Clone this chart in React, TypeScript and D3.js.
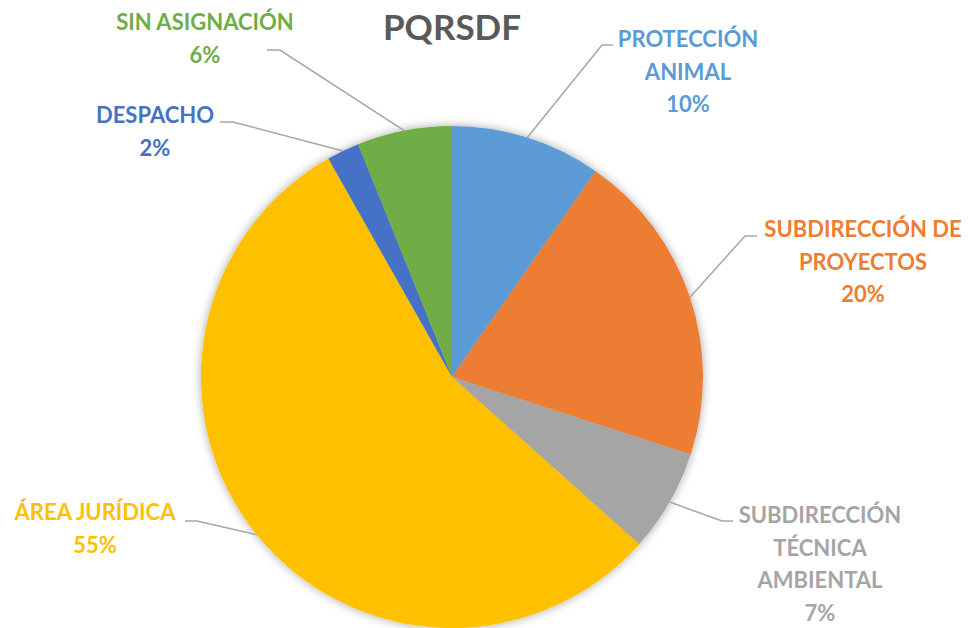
import { useEffect, useRef } from 'react';
import * as d3 from 'd3';

// datos del gráfico (porcentaje de PQRSDF por dependencia)
const categories = [
  ['PROTECCIÓN', 'ANIMAL'],
  ['SUBDIRECCIÓN DE', 'PROYECTOS'],
  ['SUBDIRECCIÓN', 'TÉCNICA', 'AMBIENTAL'],
  ['ÁREA JURÍDICA'],
  ['DESPACHO'],
  ['SIN ASIGNACIÓN'],
];
const values = [9.7, 20.3, 6.6, 55.2, 2.1, 6.1];
const colors = ['#5b9bd5', '#ed7d31', '#a5a5a5', '#ffc000', '#4472c4', '#70ad47'];

// posiciones de las etiquetas (centro x, línea base de la primera línea, codo de la guía)
const labelLayout = [
  { x: 688, y: 47, ex1: 613, ex2: 602, ey: 45 },
  { x: 863, y: 237, ex1: 757, ex2: 745, ey: 236 },
  { x: 820, y: 523, ex1: 733, ex2: 722, ey: 521 },
  { x: 95, y: 520, ex1: 185, ex2: 197, ey: 521 },
  { x: 155, y: 123, ex1: 220, ex2: 233, ey: 122 },
  { x: 205, y: 30, ex1: 267, ex2: 280, ey: 50 },
];

export default function App() {
  const svgRef = useRef<SVGSVGElement>(null);

  useEffect(() => {
    document.body.style.margin = '0';
    if (!svgRef.current) return;
    const svg = d3.select(svgRef.current);
    svg.selectAll('*').remove();

    const width = 971;
    const cx = 452;
    const cy = 377;
    const radius = 251;
    const font = 'Lato, "Open Sans", sans-serif';

    // sombra
    const defs = svg.append('defs');
    const filter = defs
      .append('filter')
      .attr('id', 'shadow')
      .attr('x', '-20%')
      .attr('y', '-20%')
      .attr('width', '140%')
      .attr('height', '140%');
    filter
      .append('feDropShadow')
      .attr('dx', 0)
      .attr('dy', 0)
      .attr('stdDeviation', 5)
      .attr('flood-color', '#000')
      .attr('flood-opacity', 0.35);

    const total = d3.sum(values);
    const pie = d3.pie<number>().sort(null).value((d) => d);
    const arcs = pie(values);
    const arc = d3.arc<d3.PieArcDatum<number>>().innerRadius(0).outerRadius(radius);

    const g = svg.append('g').attr('transform', `translate(${cx},${cy})`);
    g.append('g')
      .attr('filter', 'url(#shadow)')
      .selectAll('path')
      .data(arcs)
      .join('path')
      .attr('d', arc)
      .attr('fill', (d, i) => colors[i]);

    // guías
    arcs.forEach((d, i) => {
      const mid = (d.startAngle + d.endAngle) / 2;
      const px = cx + radius * Math.sin(mid);
      const py = cy - radius * Math.cos(mid);
      const l = labelLayout[i];
      svg
        .append('polyline')
        .attr('points', `${px},${py} ${l.ex2},${l.ey} ${l.ex1},${l.ey}`)
        .attr('fill', 'none')
        .attr('stroke', '#a6a6a6')
        .attr('stroke-width', 1.5);
    });

    // etiquetas
    arcs.forEach((d, i) => {
      const l = labelLayout[i];
      const lines = [...categories[i], `${Math.round((d.data / total) * 100)}%`];
      const text = svg
        .append('text')
        .attr('text-anchor', 'middle')
        .attr('font-family', font)
        .attr('font-weight', 'bold')
        .attr('font-size', 22)
        .attr('fill', colors[i]);
      lines.forEach((t, j) => {
        text
          .append('tspan')
          .attr('x', l.x)
          .attr('y', l.y + j * 32.5)
          .text(t);
      });
    });

    // título
    svg
      .append('text')
      .attr('x', cx)
      .attr('y', 40)
      .attr('text-anchor', 'middle')
      .attr('font-family', font)
      .attr('font-weight', 'bold')
      .attr('font-size', 35)
      .attr('fill', '#595959')
      .text('PQRSDF');

    svg.attr('width', width);
  }, []);

  return <svg ref={svgRef} width={971} height={628} style={{ display: 'block', background: '#fff' }} />;
}
